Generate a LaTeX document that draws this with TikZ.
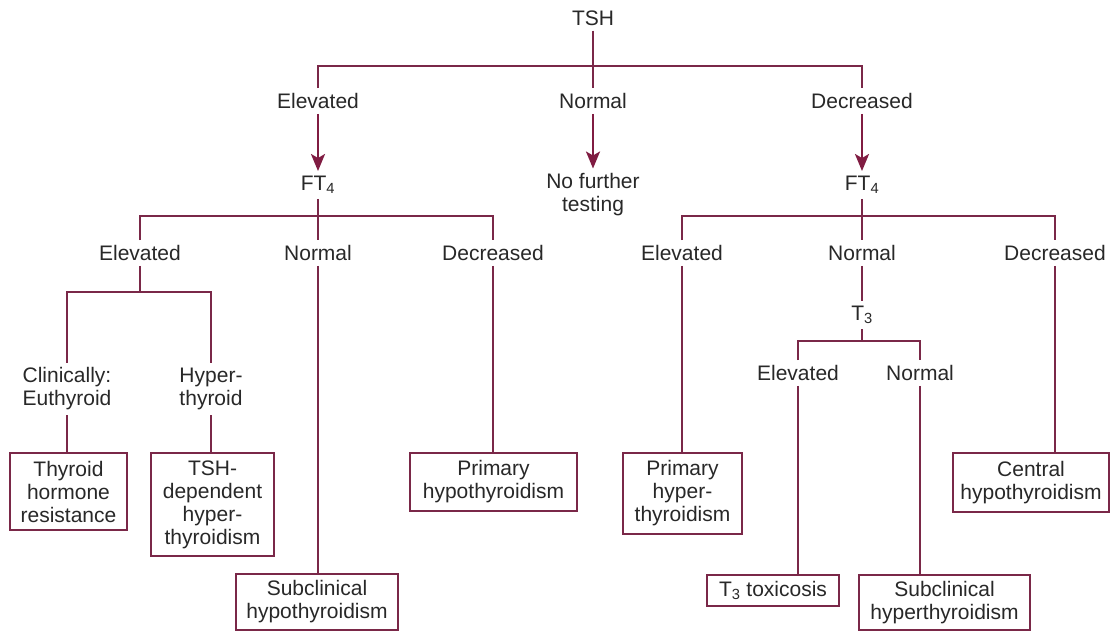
\documentclass[tikz,border=0pt]{standalone}
\usepackage{fontspec}
\setmainfont{Liberation Sans}
\usetikzlibrary{arrows.meta}
\definecolor{lncol}{RGB}{122,40,72}
\definecolor{arrcol}{RGB}{128,28,66}
\definecolor{txtcol}{RGB}{40,40,40}
\begin{document}
\begin{tikzpicture}[x=1pt,y=-1pt,
  lbl/.style={font=\fontsize{21}{23}\selectfont, text=txtcol, inner sep=5pt, align=center},
  box/.style={draw=lncol, line width=2.2pt, font=\fontsize{21}{23}\selectfont, text=txtcol, inner sep=0pt, align=center},
  ln/.style={draw=lncol, line width=2.4pt},
  arr/.style={draw=arrcol, line width=2.4pt, -{Stealth[length=17pt,width=14pt,inset=4pt]}}
]
\useasboundingbox[fill=white] (0,0) rectangle (1110,632);
% labels
\node[lbl] (tsh) at (593,18) {TSH};
\node[lbl] (e1) at (318,101) {Elevated};
\node[lbl] (n1) at (593,101) {Normal};
\node[lbl] (d1) at (862,101) {Decreased};
\node[lbl] (ft4l) at (318,185) {FT\textsubscript{4}};
\node[lbl] (nft) at (593,195) {No further\\testing};
\node[lbl] (ft4r) at (862,185) {FT\textsubscript{4}};
\node[lbl] (le) at (140,253) {Elevated};
\node[lbl] (lno) at (318,253) {Normal};
\node[lbl] (ld) at (493,253) {Decreased};
\node[lbl] (re) at (682,253) {Elevated};
\node[lbl] (rn) at (862,253) {Normal};
\node[lbl] (rd) at (1055,253) {Decreased};
\node[lbl] (ce) at (67,389) {Clinically:\\Euthyroid};
\node[lbl] (hy) at (211,389) {Hyper-\\thyroid};
\node[lbl] (t3) at (862,315) {T\textsubscript{3}};
\node[lbl] (te) at (798,373) {Elevated};
\node[lbl] (tn) at (920,373) {Normal};
% boxes
\node[box, minimum width=117pt, minimum height=77pt] (b1) at (68.5,491.5) {Thyroid\\hormone\\resistance};
\node[box, minimum width=123pt, minimum height=103pt] (b2) at (212.5,504.5) {TSH-\\dependent\\hyper-\\thyroidism};
\node[box, minimum width=162pt, minimum height=56pt] (b3) at (317,602) {Subclinical\\hypothyroidism};
\node[box, minimum width=167pt, minimum height=58pt] (b4) at (493.5,482) {Primary\\hypothyroidism};
\node[box, minimum width=119pt, minimum height=81pt] (b5) at (682.5,493.5) {Primary\\hyper-\\thyroidism};
\node[box, minimum width=132pt, minimum height=31pt] (b6) at (773,590.5) {T\textsubscript{3} toxicosis};
\node[box, minimum width=171pt, minimum height=55pt] (b7) at (944.5,602.5) {Subclinical\\hyperthyroidism};
\node[box, minimum width=156pt, minimum height=59pt] (b8) at (1031,482.5) {Central\\hypothyroidism};
% junctions
\coordinate (j1) at (593,66);
\coordinate (j2) at (318,216);
\coordinate (j3) at (862,216);
\coordinate (j4) at (140,292);
\coordinate (j5) at (862,341);
% connectors
\draw[ln] (tsh) -- (j1);
\draw[ln] (e1) |- (j1) -| (d1);
\draw[ln] (j1) -- (n1);
\draw[arr] (e1) -- (ft4l);
\draw[arr] (n1) -- (nft);
\draw[arr] (d1) -- (ft4r);
\draw[ln] (ft4l) -- (j2);
\draw[ln] (le) |- (j2) -| (ld);
\draw[ln] (j2) -- (lno);
\draw[ln] (ft4r) -- (j3);
\draw[ln] (re) |- (j3) -| (rd);
\draw[ln] (j3) -- (rn);
\draw[ln] (le) -- (j4);
\draw[ln] (ce) |- (j4) -| (hy);
\draw[ln] (ce.south) -- (ce.south |- b1.north);
\draw[ln] (hy.south) -- (hy.south |- b2.north);
\draw[ln] (lno.south) -- (lno.south |- b3.north);
\draw[ln] (ld.south) -- (ld.south |- b4.north);
\draw[ln] (re.south) -- (re.south |- b5.north);
\draw[ln] (rn) -- (t3);
\draw[ln] (t3) -- (j5);
\draw[ln] (te) |- (j5) -| (tn);
\draw[ln] (te.south) -- (te.south |- b6.north);
\draw[ln] (tn.south) -- (tn.south |- b7.north);
\draw[ln] (rd.south) -- (rd.south |- b8.north);
\end{tikzpicture}
\end{document}
